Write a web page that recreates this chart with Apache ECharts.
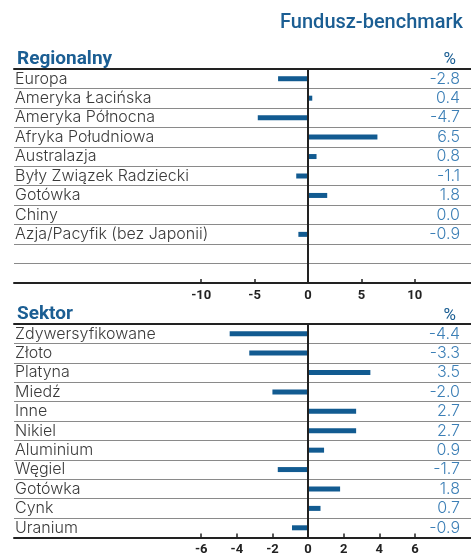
<!DOCTYPE html>
<html>
<head>
<meta charset="utf-8" />
<script src="https://cdn.jsdelivr.net/npm/echarts@6/dist/echarts.min.js"></script>
<title>Fundusz-benchmark</title>
<style>
  html, body { margin: 0; padding: 0; background: #fff; }
  #main { width: 471px; height: 554px; }
</style>
</head>
<body>
<div id="main"></div>
<script>
  // dane - regiony
  var regionNames = ['Europa', 'Ameryka Łacińska', 'Ameryka Północna', 'Afryka Południowa', 'Australazja',
                     'Były Związek Radziecki', 'Gotówka', 'Chiny', 'Azja/Pacyfik (bez Japonii)', '', ''];
  var regionValues = [-2.8, 0.4, -4.7, 6.5, 0.8, -1.1, 1.8, 0.0, -0.9, null, null];
  var regionTicks = [-10, -5, 0, 5, 10];

  // dane - sektory
  var sectorNames = ['Zdywersyfikowane', 'Złoto', 'Platyna', 'Miedź', 'Inne', 'Nikiel',
                     'Aluminium', 'Węgiel', 'Gotówka', 'Cynk', 'Uranium'];
  var sectorValues = [-4.4, -3.3, 3.5, -2.0, 2.7, 2.7, 0.9, -1.7, 1.8, 0.7, -0.9];
  var sectorTicks = [-6, -4, -2, 0, 2, 4, 6];

  var blue = '#1b5e93';
  var barBlue = '#125b91';
  var valBlue = '#3c7fb6';
  var dark = '#222';
  var font = 'Roboto, "DejaVu Sans", sans-serif';
  var rowFont = 'Inter, Roboto, sans-serif';

  function fmt(arr) {
    return arr.map(function (v) { return v === null ? '' : v.toFixed(1); });
  }

  function valueAxes(gi, min, max, ticks) {
    return [{
      type: 'value', gridIndex: gi, min: min, max: max, position: 'bottom',
      axisLine: { show: true, onZero: false, lineStyle: { color: dark, width: 2 } },
      axisTick: { show: true, inside: true, length: 4, customValues: ticks, lineStyle: { color: dark, width: 1.5 } },
      axisLabel: { show: true, customValues: ticks, margin: 6, color: dark, fontSize: 13, fontWeight: 'bold', fontFamily: font },
      splitLine: { show: false }
    }, {
      type: 'value', gridIndex: gi, min: min, max: max, position: 'top',
      axisLine: { show: true, onZero: false, lineStyle: { color: dark, width: 2 } },
      axisTick: { show: false }, axisLabel: { show: false }, splitLine: { show: false }
    }];
  }

  function catAxes(gi, names, values) {
    return [{
      type: 'category', gridIndex: gi, data: names, inverse: true, position: 'left',
      axisLine: { show: false }, axisTick: { show: false },
      axisLabel: { interval: 0, inside: true, margin: 1, align: 'left', padding: [5, 0, 0, 0],
                   color: '#3a3a3a', fontSize: 16, fontWeight: 300, fontFamily: rowFont },
      splitLine: { show: true, interval: 0, lineStyle: { color: '#8a8a8a', width: 1 } }
    }, {
      type: 'category', gridIndex: gi, data: fmt(values), inverse: true, position: 'right',
      axisLine: { show: false }, axisTick: { show: false },
      axisLabel: { interval: 0, inside: true, margin: 11, align: 'right', padding: [5, 0, 0, 0],
                   color: valBlue, fontSize: 16, fontWeight: 300, fontFamily: rowFont },
      splitLine: { show: false }
    }];
  }

  function barSeries(axisIdx, values) {
    return {
      type: 'bar', xAxisIndex: axisIdx, yAxisIndex: axisIdx, data: values,
      barWidth: 5, itemStyle: { color: barBlue }, silent: true,
      markLine: {
        silent: true, symbol: 'none', label: { show: false },
        lineStyle: { color: dark, width: 2, type: 'solid' },
        data: [{ xAxis: 0 }]
      }
    };
  }

  var myChart = echarts.init(document.getElementById('main'));

  var option = {
    animation: false,
    backgroundColor: '#fff',
    title: [
      { text: 'Fundusz-benchmark', right: 3, top: 8, textStyle: { color: blue, fontSize: 20, fontWeight: 500, fontFamily: font } },
      { text: 'Regionalny', left: 12, top: 45, textStyle: { color: blue, fontSize: 19, fontWeight: 'bold', fontFamily: font } },
      { text: '%', right: 10, top: 46, textStyle: { color: blue, fontSize: 17, fontWeight: 'normal', fontFamily: font } },
      { text: 'Sektor', left: 12, top: 300, textStyle: { color: blue, fontSize: 19, fontWeight: 'bold', fontFamily: font } },
      { text: '%', right: 10, top: 302, textStyle: { color: blue, fontSize: 17, fontWeight: 'normal', fontFamily: font } }
    ],
    grid: [
      { left: 14, right: 0, top: 69, height: 214, outerBoundsMode: 'none' },
      { left: 14, right: 0, top: 324, height: 213.5, outerBoundsMode: 'none' }
    ],
    xAxis: valueAxes(0, -27.52, 15.26, regionTicks).concat(valueAxes(1, -16.51, 9.15, sectorTicks)),
    yAxis: catAxes(0, regionNames, regionValues).concat(catAxes(1, sectorNames, sectorValues)),
    series: [
      barSeries(0, regionValues),
      barSeries(2, sectorValues)
    ]
  };

  myChart.setOption(option);
</script>
</body>
</html>
